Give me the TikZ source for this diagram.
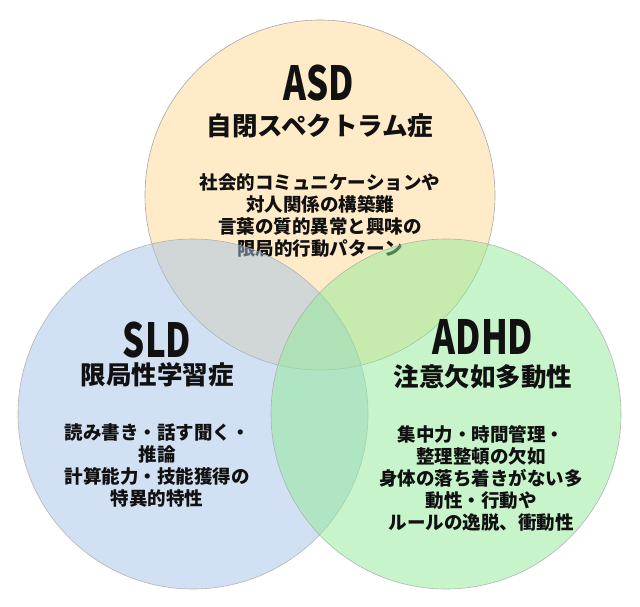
\documentclass[tikz,border=0pt]{standalone}
\usepackage{fontspec}
\setmainfont{Noto Sans CJK JP}
\newfontfamily\jp{Noto Sans CJK JP}
\newfontfamily\ttl{Noto Sans CJK JP}[FakeStretch=0.74]
\definecolor{asdc}{HTML}{FFEBC8}
\definecolor{sldc}{HTML}{A5C3E6}
\definecolor{adhdc}{HTML}{91EB96}
\definecolor{edgec}{HTML}{A8A8A8}
\definecolor{inkc}{HTML}{111111}
\begin{document}
\begin{tikzpicture}[x=1pt,y=-1pt,
  venn/.style={circle,minimum size=350pt,inner sep=0pt,draw=edgec,line width=0.6pt},
  ttlfont/.style={font=\ttl\bfseries\fontsize{47}{50}\selectfont,text=inkc,inner sep=0pt},
  subfont/.style={font=\jp\bfseries\fontsize{25.5}{30}\selectfont,text=inkc,inner sep=0pt},
  bodyfont/.style={font=\jp\bfseries\fontsize{18.5}{22}\selectfont,text=inkc,inner sep=0pt,align=center}]
\useasboundingbox (0,0) rectangle (640,607);
\fill[white] (0,0) rectangle (640,607);
% ASD
\node[venn,fill=asdc] (asd) at (320,195) {};
\node[ttlfont] (asdt) at (319,83) {ASD};
\node[subfont] (asds) at (320,126) {自閉スペクトラム症};
\node[bodyfont] (asdb) at (320,215.5) {社会的コミュニケーションや\\対人関係の構築難\\言葉の質的異常と興味の\\限局的行動パターン};
% SLD
\node[venn,fill=sldc,fill opacity=0.5,draw opacity=0.8] (sld) at (193,414) {};
\node[ttlfont] (sldt) at (157,340) {SLD};
\node[subfont] (slds) at (157,375) {限局性学習症};
\node[bodyfont] (sldb) at (157,465) {読み書き・話す聞く・\\推論\\計算能力・技能獲得の\\特異的特性};
% ADHD
\node[venn,fill=adhdc,fill opacity=0.5,draw opacity=0.8] (adhd) at (446,414) {};
\node[ttlfont] (adhdt) at (483,337) {ADHD};
\node[subfont] (adhds) at (483,377) {注意欠如多動性};
\node[bodyfont] (adhdb) at (481,478.5) {集中力・時間管理・\\整理整頓の欠如\\身体の落ち着きがない多\\動性・行動や\\ルールの逸脱、衝動性};
\end{tikzpicture}
\end{document}
